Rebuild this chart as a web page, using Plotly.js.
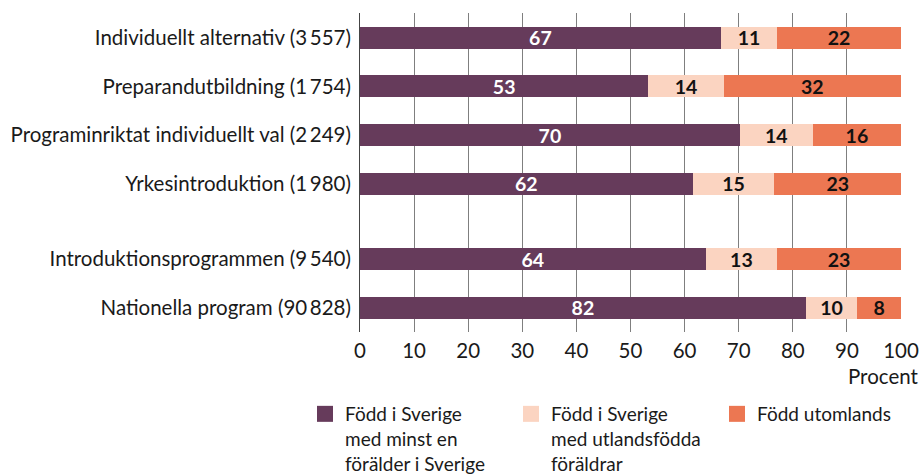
<!DOCTYPE html>
<html>
<head>
<meta charset="utf-8">
<script src="https://cdn.plot.ly/plotly-3.0.1.min.js"></script>
<style>html,body{margin:0;padding:0;background:#fff;}#chart{width:920px;height:474px;}</style>
</head>
<body>
<div id="chart"></div>
<script>
const categories = [
  "Individuellt alternativ (3\u2009557)",
  "Preparandutbildning (1\u2009754)",
  "Programinriktat individuellt val (2\u2009249)",
  "Yrkesintroduktion (1\u2009980)",
  "Introduktionsprogrammen (9\u2009540)",
  "Nationella program (90\u2009828)"
];
const seriesNames = [
  "Född i Sverige<br>med minst en<br>förälder i Sverige",
  "Född i Sverige<br>med utlandsfödda<br>föräldrar",
  "Född utomlands"
];
const bornSwedenParentSweden = [66.7, 53.3, 70.2, 61.5, 63.9, 82.4];
const bornSwedenParentsAbroad = [10.4, 13.9, 13.5, 15.1, 13.2, 9.5];
const bornAbroad = [22.9, 32.8, 16.3, 23.4, 22.9, 8.1];
const labels1 = [67, 53, 70, 62, 64, 82];
const labels2 = [11, 14, 14, 15, 13, 10];
const labels3 = [22, 32, 16, 23, 23, 8];
const xTicks = [0, 10, 20, 30, 40, 50, 60, 70, 80, 90, 100];

const colors = ["#663b5b", "#fbd4c1", "#ec7752"];
const FONT = "Lato, 'Noto Sans', sans-serif";
const FS = 20.5;

// vertical positions: a gap between the program rows and the totals
const pos = categories.map((c, i) => i + (i >= 4 ? 0.55 : 0));

const values = [bornSwedenParentSweden, bornSwedenParentsAbroad, bornAbroad];
const labels = [labels1, labels2, labels3];

const traces = values.map((v, k) => ({
  type: "bar",
  orientation: "h",
  name: seriesNames[k],
  x: v,
  y: pos,
  width: 0.45,
  marker: {color: colors[k], line: {width: 0}},
  text: labels[k].map(String),
  textposition: "inside",
  insidetextanchor: "middle",
  constraintext: "none",
  textangle: 0,
  textfont: {family: FONT, size: 19.5, color: k === 0 ? "#ffffff" : "#111111", weight: 700},
  showlegend: false,
  hoverinfo: "skip"
}));

// legend entries with larger square swatches
const legendTraces = seriesNames.map((n, k) => ({
  type: "scatter",
  mode: "markers",
  name: n,
  x: [null],
  y: [null],
  marker: {symbol: "square", size: 17, color: colors[k], line: {width: 0}},
  showlegend: true,
  hoverinfo: "skip"
}));

const layout = {
  width: 920,
  height: 474,
  margin: {l: 360, r: 19, t: 13, b: 142, autoexpand: false},
  paper_bgcolor: "#ffffff",
  plot_bgcolor: "#ffffff",
  barmode: "stack",
  font: {family: FONT, size: FS, color: "#1a1a1a"},
  showlegend: true,
  xaxis: {
    range: [0, 100],
    tickvals: xTicks,
    ticktext: xTicks.map(String),
    showgrid: true,
    gridcolor: "#7f7f7f",
    gridwidth: 1,
    zeroline: false,
    showline: false,
    ticks: "",
    ticklabelstandoff: 4,
    tickfont: {family: FONT, size: FS, color: "#1a1a1a"},
    fixedrange: true
  },
  yaxis: {
    range: [6.05, -0.51],
    tickvals: pos,
    ticktext: categories,
    showgrid: false,
    zeroline: false,
    showline: true,
    linecolor: "#444444",
    linewidth: 1,
    ticks: "",
    ticklabelstandoff: 4,
    tickfont: {family: FONT, size: FS, color: "#1a1a1a"},
    fixedrange: true
  },
  legend: {
    orientation: "h",
    xref: "paper",
    yref: "paper",
    x: (305 - 360) / 541,
    y: (332 - 395) / 319,
    xanchor: "left",
    yanchor: "top",
    valign: "top",
    traceorder: "normal",
    entrywidthmode: "pixels",
    entrywidth: 161,
    font: {family: FONT, size: 19, color: "#1a1a1a"},
    bgcolor: "rgba(0,0,0,0)"
  },
  annotations: [{
    text: "Procent",
    xref: "paper",
    yref: "paper",
    x: (921 - 360) / 541,
    y: (332 - 376) / 319,
    xanchor: "right",
    yanchor: "middle",
    showarrow: false,
    font: {family: FONT, size: FS, color: "#1a1a1a"}
  }]
};

Plotly.newPlot("chart", traces.concat(legendTraces), layout, {displayModeBar: false, staticPlot: true});
</script>
</body>
</html>
